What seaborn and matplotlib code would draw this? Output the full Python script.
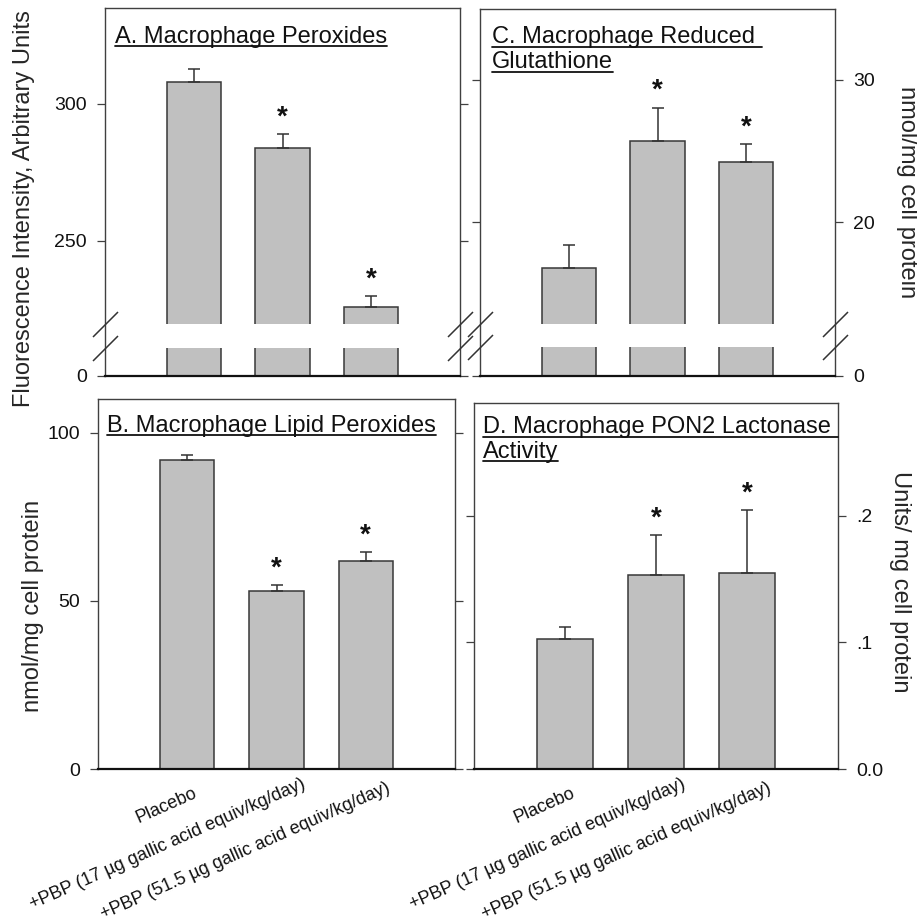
import numpy as np
import pandas as pd
import seaborn as sns
import matplotlib.pyplot as plt
from matplotlib.lines import Line2D
from matplotlib.transforms import ScaledTranslation

groups = ['Placebo',
          '+PBP (17 µg gallic acid equiv/kg/day)',
          '+PBP (51.5 µg gallic acid equiv/kg/day)']

# A. macrophage peroxides (fluorescence, arbitrary units)
perox_mean = [307.8, 283.9, 226.0]
perox_err = [4.9, 5.1, 3.9]
perox_star = [False, True, True]

# C. macrophage reduced glutathione (nmol/mg cell protein)
gsh_mean = [16.8, 25.7, 24.2]
gsh_err = [1.6, 2.35, 1.3]
gsh_star = [False, True, True]

# B. macrophage lipid peroxides (nmol/mg cell protein)
lipid_mean = [92.0, 53.0, 61.9]
lipid_err = [1.3, 1.8, 2.7]
lipid_star = [False, True, True]

# D. macrophage PON2 lactonase activity (units/mg cell protein)
pon2_mean = [0.103, 0.1535, 0.1545]
pon2_err = [0.0095, 0.031, 0.050]
pon2_star = [False, True, True]

BAR = '#c0c0c0'
EDGE = '#383838'
FRAME = '#404040'

sns.set_theme(style='ticks')
plt.rcParams['font.family'] = ['Liberation Sans', 'DejaVu Sans']
plt.rcParams['text.color'] = '#111111'

fig = plt.figure(figsize=(9.17, 9.24), dpi=100)
W, H = 917, 924


def px_axes(left, top, right, bottom):
    return fig.add_axes([left / W, 1 - bottom / H, (right - left) / W, (bottom - top) / H])


def broken_scale(vals, pix):
    # piecewise linear y scale so the axis can be "broken"
    vals = np.asarray(vals, float)
    pix = np.asarray(pix, float)
    s0 = (pix[1] - pix[0]) / (vals[1] - vals[0])
    s1 = (pix[-1] - pix[-2]) / (vals[-1] - vals[-2])
    v = np.r_[vals[0] - 1e6, vals, vals[-1] + 1e6]
    p = np.r_[pix[0] - 1e6 * s0, pix, pix[-1] + 1e6 * s1]

    def fwd(x):
        return np.interp(x, v, p)

    def inv(y):
        return np.interp(y, p, v)
    return fwd, inv


def draw_panel(ax, means, errs, stars):
    df = pd.DataFrame({'group': groups, 'value': means})
    sns.barplot(data=df, x='group', y='value', color=BAR, saturation=1,
                edgecolor=EDGE, linewidth=1.1, width=0.61, errorbar=None, ax=ax)
    ax.errorbar(np.arange(len(means)), means, yerr=[np.zeros(len(errs)), errs],
                fmt='none', ecolor='#333333', elinewidth=1.1, capsize=4.3,
                capthick=1.1, zorder=3)
    for i, (m, e, s) in enumerate(zip(means, errs, stars)):
        if s:
            ax.annotate('*', (i, m + e), xytext=(0, 12), textcoords='offset points',
                        ha='center', va='center', fontsize=20, fontweight='bold')
    ax.set_xlim(-1, 3)
    ax.set_xlabel('')
    for side in ['left', 'right', 'top']:
        ax.spines[side].set_color(FRAME)
        ax.spines[side].set_linewidth(1.0)
    ax.spines['bottom'].set_color('#111111')
    ax.spines['bottom'].set_linewidth(1.6)
    ax.tick_params(axis='y', left=True, right=True, direction='out', length=6,
                   width=0.9, color=FRAME, labelsize=14, pad=7, labelcolor='#111111')
    ax.tick_params(axis='x', length=0, pad=0, labelsize=13, labelcolor='#111111')


def add_break(ax, lo, hi):
    ax.axhspan(lo, hi, color='white', zorder=1.5, lw=0)
    for x in (0, 1):
        ax.plot([x, x], [lo, hi], transform=ax.get_yaxis_transform(), linestyle='none',
                marker=[(-1, -1), (1, 1)], markersize=18, markeredgewidth=1.1,
                color='#333333', clip_on=False, zorder=4)


# ---- A ----
axA = px_axes(105, 8, 460, 376)
draw_panel(axA, perox_mean, perox_err, perox_star)
fA, iA = broken_scale([0, 200, 219.8, 334.8], [0, 28.3, 52, 367.8])
axA.set_yscale('function', functions=(fA, iA))
axA.set_ylim(0, 334.8)
axA.set_yticks([0, 250, 300])
axA.tick_params(axis='y', labelleft=True, labelright=False)
axA.tick_params(axis='x', labelbottom=False)
add_break(axA, 200, 219.8)
axA.set_ylabel('Fluorescence Intensity, Arbitrary Units', fontsize=17, va='center')
axA.yaxis.set_label_coords(-0.228, 0.454)

# ---- C ----
axC = px_axes(480, 9, 835, 376)
draw_panel(axC, gsh_mean, gsh_err, gsh_star)
fC, iC = broken_scale([0, 10, 12.9, 34.97], [0, 29, 52.4, 366.5])
axC.set_yscale('function', functions=(fC, iC))
axC.set_ylim(0, 34.97)
axC.set_yticks([0, 20, 30])
axC.tick_params(axis='y', labelleft=False, labelright=True)
axC.tick_params(axis='x', labelbottom=False)
add_break(axC, 10, 12.9)
axC.yaxis.set_label_position('right')
axC.set_ylabel('nmol/mg cell protein', fontsize=17, rotation=270, va='center')
axC.yaxis.set_label_coords(1.203, 0.501)

# ---- B ----
axB = px_axes(98, 399, 455, 769)
draw_panel(axB, lipid_mean, lipid_err, lipid_star)
axB.set_ylim(0, 110.1)
axB.set_yticks([0, 50, 100])
axB.tick_params(axis='y', labelleft=True, labelright=False)
axB.set_ylabel('nmol/mg cell protein', fontsize=17, va='center')
axB.yaxis.set_label_coords(-0.182, 0.441)

# ---- D ----
axD = px_axes(474, 403, 838, 769)
draw_panel(axD, pon2_mean, pon2_err, pon2_star)
axD.set_ylim(0, 0.289)
axD.set_yticks([0, 0.1, 0.2])
axD.set_yticklabels(['0.0', '.1', '.2'])
axD.tick_params(axis='y', labelleft=False, labelright=True)
axD.yaxis.set_label_position('right')
axD.set_ylabel('Units/ mg cell protein', fontsize=17, rotation=270, va='center')
axD.yaxis.set_label_coords(1.170, 0.511)

# rotated group labels under the bottom panels
label_shift = [(4.0, -11.5), (18.0, -4.5), (14.5, -7.5)]
for ax in (axB, axD):
    ax.set_xticks(range(len(groups)))
    ax.set_xticklabels(groups, rotation=24, ha='right', va='top', rotation_mode='anchor')
    for lab, (dx, dy) in zip(ax.get_xticklabels(), label_shift):
        lab.set_transform(lab.get_transform() + ScaledTranslation(dx / 72, dy / 72, fig.dpi_scale_trans))

# panel titles (underlined)
titles = [
    (axA, 0.028, [0.905], ['A. Macrophage Peroxides']),
    (axC, 0.034, [0.907, 0.839], ['C. Macrophage Reduced ', 'Glutathione']),
    (axB, 0.025, [0.911], ['B. Macrophage Lipid Peroxides']),
    (axD, 0.025, [0.918, 0.850], ['D. Macrophage PON2 Lactonase ', 'Activity']),
]
title_objs = []
for ax, x, ys, lines in titles:
    for y, line in zip(ys, lines):
        t = ax.text(x, y, line, transform=ax.transAxes, fontsize=17,
                    ha='left', va='baseline', zorder=5)
        title_objs.append((ax, t))

fig.canvas.draw()
renderer = fig.canvas.get_renderer()
to_fig = fig.transFigure.inverted()
for ax, t in title_objs:
    bb = t.get_window_extent(renderer)
    base = ax.transAxes.transform(t.get_position())[1]
    (x0, y0), (x1, _) = to_fig.transform([(bb.x0, base - 3.5), (bb.x1, base - 3.5)])
    fig.add_artist(Line2D([x0, x1], [y0, y0], transform=fig.transFigure,
                          color='#111111', linewidth=1.3))

fig.savefig('out.png', dpi=100, facecolor='white')
